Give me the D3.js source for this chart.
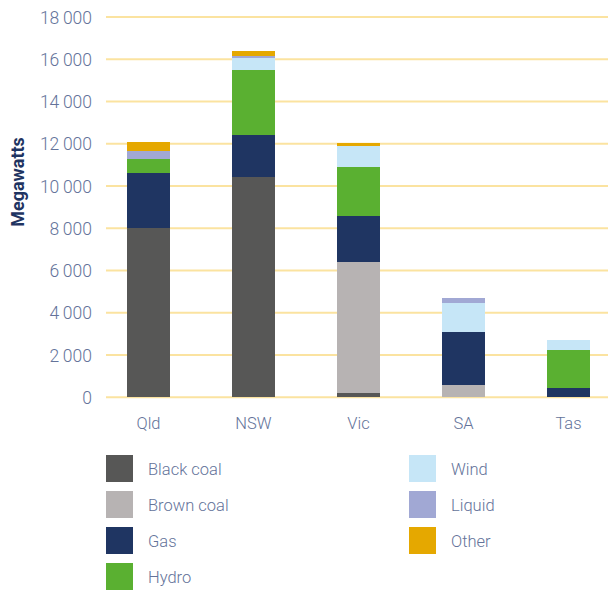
<!DOCTYPE html>
<html><head><meta charset="utf-8">
<script src="https://cdn.jsdelivr.net/npm/d3@7"></script>
<style>body{margin:0;background:#fff;}svg{display:block;}</style>
</head><body>
<svg id="c" width="608" height="591"></svg>
<script>
const categories = ["Qld","NSW","Vic","SA","Tas"];
const seriesNames = ["Black coal","Brown coal","Gas","Hydro","Wind","Liquid","Other"];
const blackCoal = [8000,10450,200,0,0];
const brownCoal = [0,0,6200,600,0];
const gas = [2640,1950,2170,2480,420];
const hydro = [650,3080,2340,0,1840];
const wind = [0,560,980,1370,430];
const liquid = [390,100,0,270,0];
const other = [400,240,140,0,0];
const yTicks = [0,2000,4000,6000,8000,10000,12000,14000,16000,18000];
const colors = ["#575756","#b7b3b3","#1f3562","#5ab031","#c6e6f7","#a1a8d4","#e5a800"];

const seriesVals = [blackCoal,brownCoal,gas,hydro,wind,liquid,other];
const table = categories.map((c,i)=>{const o={cat:c};seriesNames.forEach((s,j)=>o[s]=seriesVals[j][i]);return o;});
const stack = d3.stack().keys(seriesNames)(table);

const svg = d3.select("#c");
const y = d3.scaleLinear().domain([0,18000]).range([397.3,17]);
const x = d3.scaleBand().domain(categories).range([96,621]).paddingInner(0.59).paddingOuter(0.295);
const color = d3.scaleOrdinal().domain(seriesNames).range(colors);
const fontF = "'Roboto','Open Sans',sans-serif";
const txtCol = "#64739a";

// gridlines
svg.append("g").selectAll("line").data(yTicks).join("line")
  .attr("x1",106).attr("x2",608)
  .attr("y1",d=>y(d)).attr("y2",d=>y(d))
  .attr("stroke","#fbe3a0").attr("stroke-width",2);

// y axis labels
const fmt = d=> d===0?"0":d3.format(",")(d).replace(",","\u2009");
const yAxis = d3.axisLeft(y).tickValues(yTicks).tickFormat(fmt).tickSize(0).tickPadding(0);
const ya = svg.append("g").attr("transform","translate(92,0)").call(yAxis);
ya.select(".domain").remove();
ya.selectAll("text").attr("fill",txtCol).attr("font-family",fontF).attr("font-size",17.5).attr("font-weight",300).attr("dy","0.35em");

// bars
svg.append("g").attr("shape-rendering","crispEdges").selectAll("g").data(stack).join("g").attr("fill",d=>color(d.key))
  .selectAll("rect").data(d=>d).join("rect")
  .attr("x",d=>x(d.data.cat)).attr("width",x.bandwidth())
  .attr("y",d=>y(d[1])).attr("height",d=>y(d[0])-y(d[1]));

// x axis labels
const xAxis = d3.axisBottom(x).tickSize(0).tickPadding(0);
const xa = svg.append("g").attr("transform","translate(0,417)").call(xAxis);
xa.select(".domain").remove();
xa.selectAll("text").attr("fill",txtCol).attr("font-family",fontF).attr("font-size",16.5).attr("font-weight",300).attr("dy","0.71em");

// y title
svg.append("text").attr("transform","translate(24,182) rotate(-90)")
  .attr("text-anchor","middle").attr("fill","#1f3461").attr("font-family",fontF)
  .attr("font-size",18).attr("font-weight",700).text("Megawatts");

// legend
const leg = svg.append("g").selectAll("g").data(seriesNames).join("g")
  .attr("transform",(d,i)=> i<4 ? `translate(106,${455+i*36})` : `translate(409,${455+(i-4)*36})`);
leg.append("rect").attr("width",27).attr("height",27).attr("fill",d=>color(d));
leg.append("text").attr("x",42).attr("y",14).attr("dy","0.35em")
  .attr("fill",txtCol).attr("font-family",fontF).attr("font-size",16.5).attr("font-weight",300).text(d=>d);
</script>
</body></html>
